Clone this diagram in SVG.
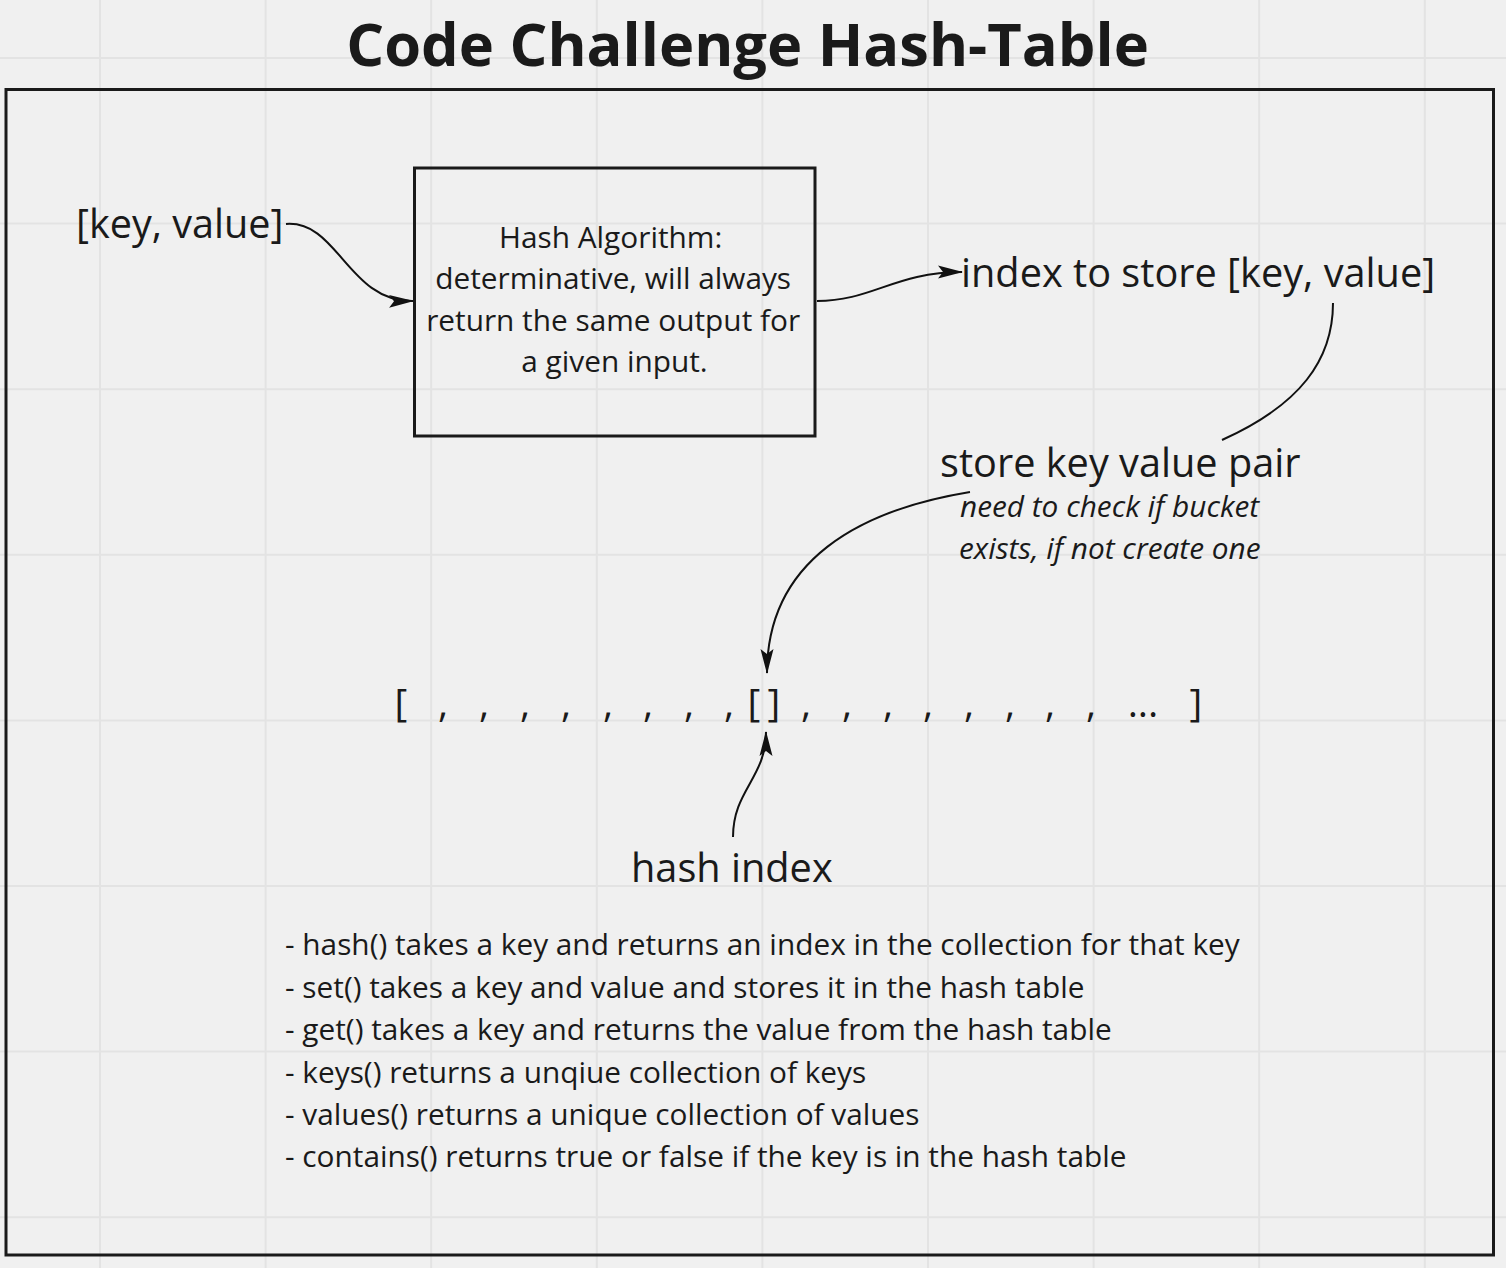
<svg xmlns="http://www.w3.org/2000/svg" width="1506" height="1268" viewBox="0 0 1506 1268">
<defs>
<style>
.t{font-family:"Open Sans","Noto Sans","Liberation Sans",sans-serif;fill:#1a1a1a}
.big{font-size:39.7px}
.small{font-size:29.8px}
.grid line{stroke:#e3e3e3;stroke-width:2}
.conn path{fill:none;stroke:#111;stroke-width:2}
.frame{fill:none;stroke:#1a1a1a;stroke-width:3}
</style>
<marker id="ah" markerUnits="userSpaceOnUse" markerWidth="26" markerHeight="14" refX="24" refY="7" orient="auto">
<path d="M0,0.5 L25,7 L0,13.5 L5,7 z" fill="#111"/>
</marker>
</defs>
<rect width="1506" height="1268" fill="#f0f0f0"/>
<g class="grid">
<line x1="100" y1="0" x2="100" y2="1268"/>
<line x1="265.6" y1="0" x2="265.6" y2="1268"/>
<line x1="431.2" y1="0" x2="431.2" y2="1268"/>
<line x1="596.8" y1="0" x2="596.8" y2="1268"/>
<line x1="762.4" y1="0" x2="762.4" y2="1268"/>
<line x1="928" y1="0" x2="928" y2="1268"/>
<line x1="1093.6" y1="0" x2="1093.6" y2="1268"/>
<line x1="1259.2" y1="0" x2="1259.2" y2="1268"/>
<line x1="1424.8" y1="0" x2="1424.8" y2="1268"/>
<line x1="0" y1="58" x2="1506" y2="58"/>
<line x1="0" y1="223.6" x2="1506" y2="223.6"/>
<line x1="0" y1="389.2" x2="1506" y2="389.2"/>
<line x1="0" y1="554.8" x2="1506" y2="554.8"/>
<line x1="0" y1="720.4" x2="1506" y2="720.4"/>
<line x1="0" y1="886" x2="1506" y2="886"/>
<line x1="0" y1="1051.6" x2="1506" y2="1051.6"/>
<line x1="0" y1="1217.2" x2="1506" y2="1217.2"/>
</g>
<g id="title"><text class="t" x="747.5" y="66" font-size="59.6" font-weight="bold" text-anchor="middle">Code Challenge Hash-Table</text></g>
<g id="frame"><rect class="frame" x="6" y="89.5" width="1487.5" height="1165.5"/></g>
<g id="input"><text class="t" x="76" y="238" font-size="39.6">[key, value]</text></g>
<g id="hash-algorithm">
<rect class="frame" x="414.5" y="168" width="400.5" height="268"/>
<text class="t small" text-anchor="middle">
<tspan x="614.5" y="248">Hash Algorithm:</tspan>
<tspan x="617" y="289">determinative, will always</tspan>
<tspan x="617" y="331">return the same output for</tspan>
<tspan x="614.5" y="372">a given input.</tspan>
</text>
</g>
<g id="index-to-store"><text class="t big" x="961" y="287">index to store [key, value]</text></g>
<g id="store-pair">
<text class="t big" x="940" y="477">store key value pair</text>
<text class="t small" font-style="italic"><tspan x="960" y="517">need to check if bucket</tspan><tspan x="959" y="559">exists, if not create one</tspan></text>
</g>
<g id="array">
<text class="t" font-size="39" y="717" text-anchor="middle"><tspan x="401">[</tspan><tspan x="443">,</tspan><tspan x="484">,</tspan><tspan x="525">,</tspan><tspan x="566">,</tspan><tspan x="608">,</tspan><tspan x="648">,</tspan><tspan x="689">,</tspan><tspan x="729">,</tspan><tspan x="754">[</tspan><tspan x="774">]</tspan><tspan x="806">,</tspan><tspan x="847">,</tspan><tspan x="888">,</tspan><tspan x="928">,</tspan><tspan x="969">,</tspan><tspan x="1010">,</tspan><tspan x="1050">,</tspan><tspan x="1091">,</tspan><tspan x="1143">...</tspan><tspan x="1196">]</tspan></text>
</g>
<g id="hash-index"><text class="t big" x="631" y="882">hash index</text></g>
<g id="methods">
<text class="t small">
<tspan x="285" y="955">- hash() takes a key and returns an index in the collection for that key</tspan>
<tspan x="285" y="998">- set() takes a key and value and stores it in the hash table</tspan>
<tspan x="285" y="1040">- get() takes a key and returns the value from the hash table</tspan>
<tspan x="285" y="1083">- keys() returns a unqiue collection of keys</tspan>
<tspan x="285" y="1125">- values() returns a unique collection of values</tspan>
<tspan x="285" y="1167">- contains() returns true or false if the key is in the hash table</tspan>
</text>
</g>
<g class="conn" id="connectors">
<path d="M286,224 C 338,220 348,302 413,301" marker-end="url(#ah)"/>
<path d="M817,301 C 872,301 895,272 962,272" marker-end="url(#ah)"/>
<path d="M1333,303 C 1333,360 1300,405 1222,440"/>
<path d="M970,492 C 860,510 767,560 767,673" marker-end="url(#ah)"/>
<path d="M733,837 C 733,790 766,778 766,732" marker-end="url(#ah)"/>
</g>
</svg>
